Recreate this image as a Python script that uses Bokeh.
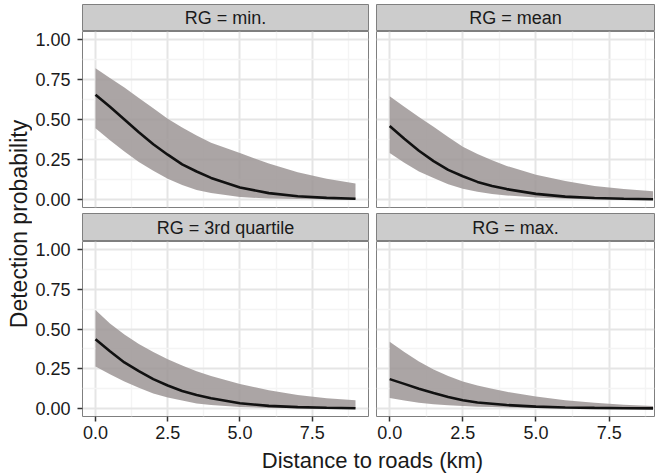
import math
from bokeh.plotting import figure
from bokeh.models import (Range1d, FixedTicker, NumeralTickFormatter, Grid, Label)
from bokeh.layouts import row, column
from bokeh.embed import file_html
from bokeh.resources import INLINE

# ---------------- data ----------------
distance = [0, 0.5, 1, 1.5, 2, 2.5, 3, 3.5, 4, 5, 6, 7, 8, 9]

panel_titles = ["RG = min.", "RG = mean", "RG = 3rd quartile", "RG = max."]

fit_min = [0.655, 0.58, 0.50, 0.42, 0.345, 0.28, 0.22, 0.175, 0.135, 0.075, 0.04, 0.02, 0.01, 0.005]
upr_min = [0.82, 0.76, 0.70, 0.635, 0.57, 0.505, 0.45, 0.40, 0.355, 0.29, 0.225, 0.17, 0.13, 0.10]
lwr_min = [0.445, 0.37, 0.30, 0.235, 0.18, 0.13, 0.09, 0.06, 0.04, 0.015, 0.006, 0.003, 0.001, 0.0005]

fit_mean = [0.46, 0.38, 0.305, 0.24, 0.185, 0.145, 0.11, 0.085, 0.065, 0.035, 0.018, 0.009, 0.005, 0.002]
upr_mean = [0.645, 0.58, 0.515, 0.455, 0.39, 0.33, 0.285, 0.245, 0.21, 0.155, 0.115, 0.085, 0.065, 0.052]
lwr_mean = [0.29, 0.23, 0.175, 0.135, 0.095, 0.067, 0.048, 0.035, 0.025, 0.012, 0.005, 0.002, 0.001, 0.0005]

fit_q3 = [0.435, 0.36, 0.29, 0.235, 0.185, 0.145, 0.11, 0.085, 0.065, 0.033, 0.017, 0.009, 0.005, 0.002]
upr_q3 = [0.62, 0.535, 0.465, 0.405, 0.355, 0.31, 0.27, 0.235, 0.205, 0.155, 0.115, 0.085, 0.065, 0.052]
lwr_q3 = [0.265, 0.215, 0.17, 0.13, 0.095, 0.07, 0.05, 0.032, 0.022, 0.01, 0.004, 0.002, 0.001, 0.0005]

fit_max = [0.185, 0.155, 0.125, 0.097, 0.072, 0.052, 0.038, 0.03, 0.022, 0.012, 0.007, 0.004, 0.002, 0.001]
upr_max = [0.42, 0.355, 0.295, 0.245, 0.205, 0.17, 0.145, 0.125, 0.105, 0.075, 0.052, 0.036, 0.024, 0.016]
lwr_max = [0.067, 0.05, 0.036, 0.027, 0.02, 0.016, 0.012, 0.009, 0.007, 0.004, 0.002, 0.001, 0.0005, 0.0003]

x_ticks = [0, 2.5, 5, 7.5]
x_minor = [1.25, 3.75, 6.25, 8.75]
y_ticks = [0, 0.25, 0.5, 0.75, 1.0]
y_minor = [0.125, 0.375, 0.625, 0.875]

x_title = "Distance to roads (km)"
y_title = "Detection probability"

# ---------------- styling / layout ----------------
FONT = "Liberation Sans"
STRIP_FILL = "#cccccc"
BORDER = "#7f7f7f"
RIBBON = "#9c9595"
TXT = "#1a1a1a"

YT_W = 32
LB, L_FRAME, MID = 48, 288, 4
R_FRAME, RB = 278, 2
LEFT_W = LB + L_FRAME + MID
RIGHT_W = MID + R_FRAME + RB
TOP = 4
STRIP1_H, STRIP2_H = 27, 28
TOP_FRAME, GAP_V = 176, 6
BOT_FRAME, BOT_AXIS = 175, 30
XT_H = 26


def blank(p):
    for g in p.grid:
        g.visible = False
    p.border_fill_color = "white"
    p.background_fill_color = "white"
    p.outline_line_color = None


def strip(text, left, h, top):
    p = figure(width=LEFT_W if left else RIGHT_W, height=h + top,
               x_range=Range1d(0, 1), y_range=Range1d(0, 1),
               x_axis_location=None, y_axis_location=None, toolbar_location=None,
               output_backend="svg", min_border_left=LB if left else MID,
               min_border_right=MID if left else RB, min_border_top=top, min_border_bottom=0)
    blank(p)
    p.background_fill_color = STRIP_FILL
    p.outline_line_color = BORDER
    p.outline_line_width = 1
    p.add_layout(Label(x=0.5, y=0.5, text=text, text_align="center", text_baseline="middle",
                       text_font=FONT, text_font_size="18px", text_color=TXT))
    return p


def panel(fit, upr, lwr, left, bottom):
    frame_h = BOT_FRAME if bottom else TOP_FRAME
    bb = BOT_AXIS if bottom else GAP_V
    xr = Range1d(-0.45, 9.45) if left else Range1d(-0.45, 9.05)
    p = figure(width=LEFT_W if left else RIGHT_W, height=frame_h + bb,
               x_range=xr, y_range=Range1d(-0.05, 1.05),
               x_axis_location="below" if bottom else None,
               y_axis_location="left" if left else None,
               toolbar_location=None, output_backend="svg",
               min_border_left=LB if left else MID, min_border_right=MID if left else RB,
               min_border_top=0, min_border_bottom=bb)
    blank(p)
    p.outline_line_color = BORDER
    p.outline_line_width = 1

    gx = Grid(dimension=0, ticker=FixedTicker(ticks=x_ticks, minor_ticks=x_minor),
              grid_line_color="#e5e5e5", grid_line_width=2,
              minor_grid_line_color="#f4f4f4", minor_grid_line_width=1.5)
    gy = Grid(dimension=1, ticker=FixedTicker(ticks=y_ticks, minor_ticks=y_minor),
              grid_line_color="#e5e5e5", grid_line_width=2,
              minor_grid_line_color="#f4f4f4", minor_grid_line_width=1.5)
    p.add_layout(gx)
    p.add_layout(gy)

    p.varea(x=distance, y1=lwr, y2=upr, fill_color=RIBBON, fill_alpha=0.85)
    p.line(x=distance, y=fit, line_color="#111111", line_width=2.6)

    for ax in p.axis:
        ax.axis_line_color = None
        ax.major_tick_line_color = "#333333"
        ax.major_tick_line_width = 1.5
        ax.major_tick_in = 0
        ax.major_tick_out = 5
        ax.minor_tick_line_color = None
        ax.major_label_text_font = FONT
        ax.major_label_text_font_size = "18px"
        ax.major_label_text_color = TXT
    if bottom:
        p.xaxis.ticker = FixedTicker(ticks=x_ticks)
        p.xaxis.formatter = NumeralTickFormatter(format="0.0")
        p.xaxis.major_label_standoff = 4
    if left:
        p.yaxis.ticker = FixedTicker(ticks=y_ticks)
        p.yaxis.formatter = NumeralTickFormatter(format="0.00")
        p.yaxis.major_label_standoff = 7
    return p


s1 = strip(panel_titles[0], True, STRIP1_H, TOP)
p1 = panel(fit_min, upr_min, lwr_min, True, False)
s2 = strip(panel_titles[1], False, STRIP1_H, TOP)
p2 = panel(fit_mean, upr_mean, lwr_mean, False, False)
s3 = strip(panel_titles[2], True, STRIP2_H, 0)
p3 = panel(fit_q3, upr_q3, lwr_q3, True, True)
s4 = strip(panel_titles[3], False, STRIP2_H, 0)
p4 = panel(fit_max, upr_max, lwr_max, False, True)

COL_H = TOP + STRIP1_H + TOP_FRAME + GAP_V + STRIP2_H + BOT_FRAME + BOT_AXIS
PANEL_MID = (TOP + STRIP1_H + COL_H - BOT_AXIS) / 2.0

# y-axis title (shared)
yt = figure(width=YT_W, height=COL_H, x_range=Range1d(0, YT_W), y_range=Range1d(0, COL_H),
            x_axis_location=None, y_axis_location=None, toolbar_location=None,
            output_backend="svg", min_border=0)
blank(yt)
yt.add_layout(Label(x=18, y=COL_H - PANEL_MID, text=y_title, angle=math.pi / 2,
                    text_align="center", text_baseline="middle",
                    text_font=FONT, text_font_size="23px", text_color=TXT))

# x-axis title (shared), drawn as an axis label so it is sized by the layout
XT_L = 88
xt = figure(width=YT_W + LEFT_W + RIGHT_W, height=XT_H, x_range=Range1d(0, 1), y_range=Range1d(0, 1),
            x_axis_location="above", y_axis_location=None, toolbar_location=None,
            output_backend="svg", min_border_left=XT_L, min_border_right=0,
            min_border_top=0, min_border_bottom=0)
blank(xt)
xa = xt.xaxis[0]
xa.ticker = FixedTicker(ticks=[])
xa.axis_line_color = None
xa.major_tick_line_color = None
xa.minor_tick_line_color = None
xa.major_tick_out = 0
xa.major_tick_in = 0
xa.major_label_standoff = 0
xa.major_label_text_font_size = "1px"
xa.axis_label = x_title
xa.axis_label_standoff = 0
xa.axis_label_text_font = FONT
xa.axis_label_text_font_size = "22px"
xa.axis_label_text_font_style = "normal"
xa.axis_label_text_color = TXT

layout = column(row(yt, column(s1, p1, s3, p3), column(s2, p2, s4, p4)), xt)

open("out.html", "w").write(file_html(layout, INLINE))
